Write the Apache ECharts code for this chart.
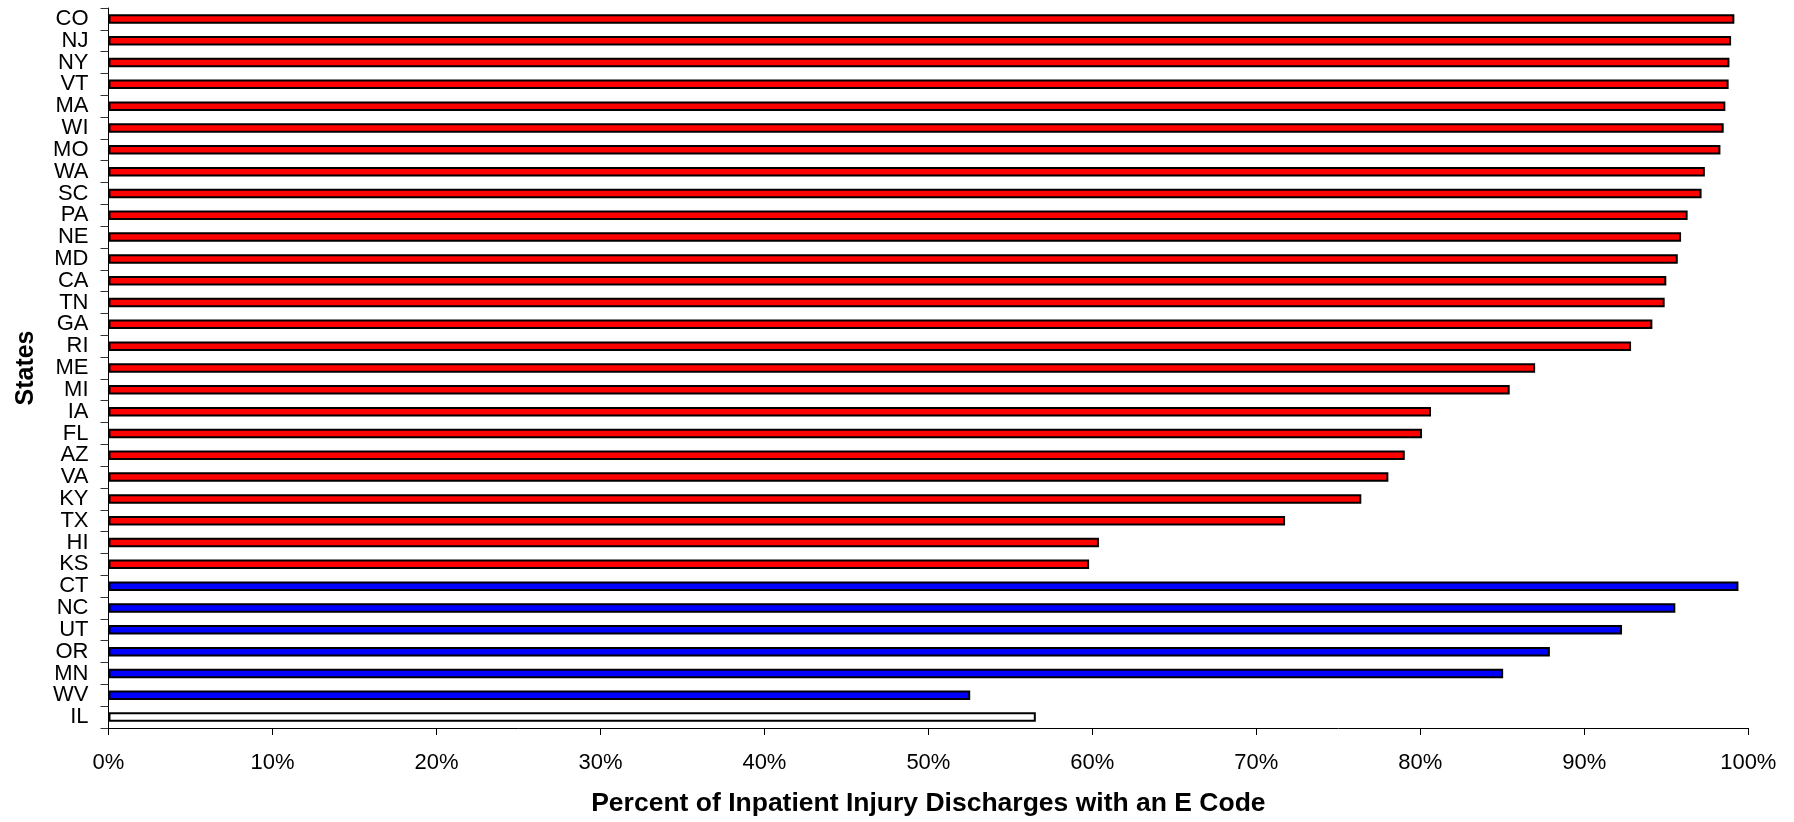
<!DOCTYPE html>
<html>
<head>
<meta charset="utf-8">
<script src="https://cdn.jsdelivr.net/npm/echarts@6/dist/echarts.min.js"></script>
<style>
html,body{margin:0;padding:0;background:#fff;}
#chart{width:1794px;height:822px;}
</style>
</head>
<body>
<div id="chart"></div>
<script>
// Data
const states = ["CO","NJ","NY","VT","MA","WI","MO","WA","SC","PA","NE","MD","CA","TN","GA","RI","ME","MI","IA","FL","AZ","VA","KY","TX","HI","KS","CT","NC","UT","OR","MN","WV","IL"];
const values = [99.15,98.95,98.85,98.8,98.6,98.5,98.3,97.35,97.15,96.3,95.9,95.7,95.0,94.9,94.15,92.85,87.0,85.45,80.65,80.1,79.05,78.05,76.4,71.75,60.4,59.8,99.4,95.55,92.3,87.9,85.05,52.55,56.55];
const groups = ["r","r","r","r","r","r","r","r","r","r","r","r","r","r","r","r","r","r","r","r","r","r","r","r","r","r","b","b","b","b","b","b","w"];
const xTicks = [0,10,20,30,40,50,60,70,80,90,100];
const xTitle = "Percent of Inpatient Injury Discharges with an E Code";
const yTitle = "States";

const fillFor = {r:"#ff0000", b:"#0000ff", w:"#ffffff"};
const FONT = "'Liberation Sans', Arial, sans-serif";

const chart = echarts.init(document.getElementById('chart'), null, {renderer:'canvas'});
chart.setOption({
  animation:false,
  backgroundColor:'#ffffff',
  grid:{left:108.5, right:45.7, top:8, bottom:94, containLabel:false},
  xAxis:{
    type:'value', min:xTicks[0], max:xTicks[xTicks.length-1], interval:10,
    name:xTitle, nameLocation:'middle', nameGap:62,
    nameTextStyle:{fontFamily:FONT, fontWeight:'bold', fontSize:26.5, color:'#000'},
    axisLine:{show:true, lineStyle:{color:'#000', width:1}},
    axisTick:{show:true, length:7, lineStyle:{color:'#000', width:1}},
    axisLabel:{formatter:'{value}%', fontFamily:FONT, fontSize:22, color:'#000', margin:24},
    splitLine:{show:false}
  },
  yAxis:{
    type:'category', data:states, inverse:true,
    name:yTitle, nameLocation:'middle', nameGap:70, nameRotate:90,
    nameTextStyle:{fontFamily:FONT, fontWeight:'bold', fontSize:25, color:'#000'},
    axisLine:{show:true, lineStyle:{color:'#000', width:1}},
    axisTick:{show:true, length:8, lineStyle:{color:'#333', width:1}},
    axisLabel:{fontFamily:FONT, fontSize:22, color:'#000', margin:20, interval:0},
    splitLine:{show:false}
  },
  series:[{
    type:'bar',
    barWidth:9.5,
    data: values.map((v,i)=>({value:v, itemStyle:{color:fillFor[groups[i]]}})),
    itemStyle:{borderColor:'#000', borderWidth:2}
  }]
});
</script>
</body>
</html>
